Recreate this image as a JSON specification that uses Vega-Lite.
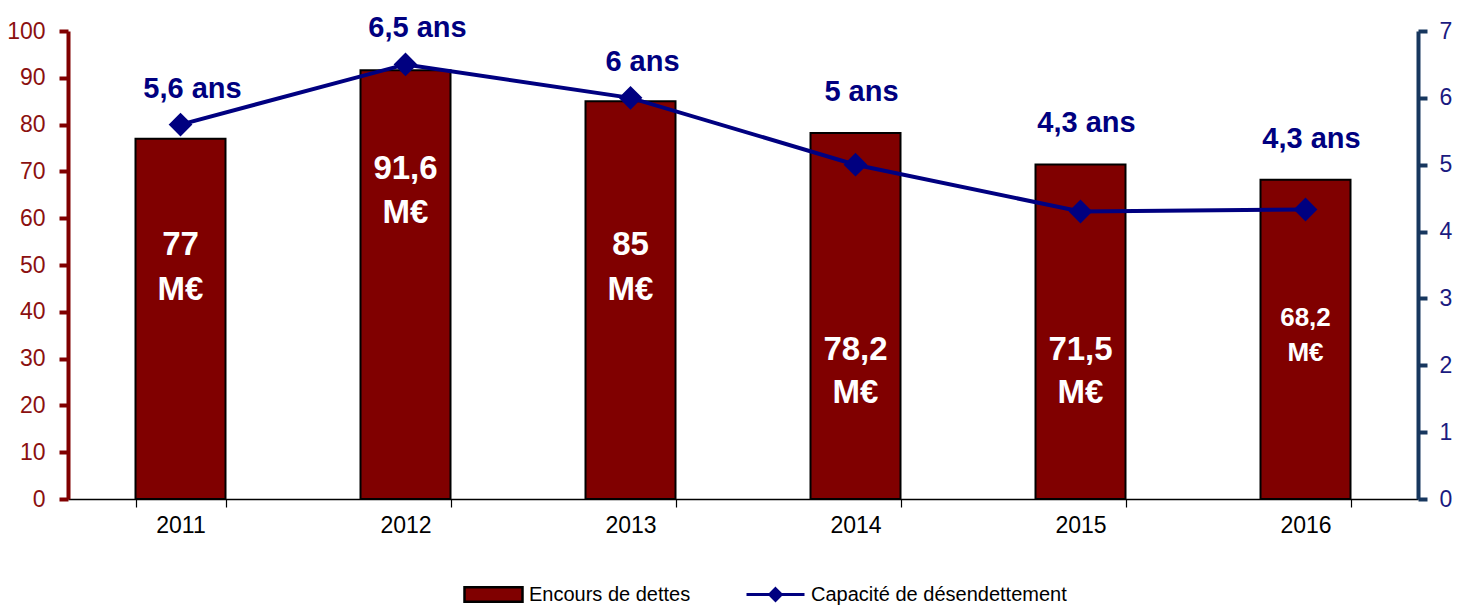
{
  "$schema": "https://vega.github.io/schema/vega-lite/v6.json",
  "width": 1350,
  "height": 468,
  "autosize": "none",
  "padding": {"left": 68, "top": 31, "right": 40, "bottom": 107},
  "background": "white",
  "config": {
    "view": {"stroke": null},
    "font": "Liberation Sans",
    "text": {"font": "Liberation Sans"}
  },
  "data": {
    "values": [
      {"annee": "2011", "dette": 77, "capacite": 5.6, "etiq": "77\nM€", "ans": "5,6 ans"},
      {"annee": "2012", "dette": 91.6, "capacite": 6.5, "etiq": "91,6\nM€", "ans": "6,5 ans"},
      {"annee": "2013", "dette": 85, "capacite": 6.0, "etiq": "85\nM€", "ans": "6 ans"},
      {"annee": "2014", "dette": 78.2, "capacite": 5.0, "etiq": "78,2\nM€", "ans": "5 ans"},
      {"annee": "2015", "dette": 71.5, "capacite": 4.3, "etiq": "71,5\nM€", "ans": "4,3 ans"},
      {"annee": "2016", "dette": 68.2, "capacite": 4.33, "etiq": "68,2\nM€", "ans": "4,3 ans"}
    ]
  },
  "encoding": {
    "x": {
      "field": "annee", "type": "ordinal", "sort": null,
      "scale": {"paddingInner": 0.6, "paddingOuter": 0.3},
      "axis": {
        "title": null, "labelAngle": 0, "labelFont": "Liberation Sans", "labelFontSize": 23,
        "labelColor": "#000000", "labelPadding": 7, "domainColor": "#000000", "domainWidth": 1.5,
        "tickColor": "#000000", "tickWidth": 1.2, "tickSize": 8, "tickBand": "extent"
      }
    }
  },
  "layer": [
    {
      "encoding": {
        "y": {
          "field": "dette", "type": "quantitative",
          "scale": {"domain": [0, 100], "nice": false},
          "axis": {
            "title": null, "orient": "left", "values": [0,10,20,30,40,50,60,70,80,90,100],
            "grid": false, "domainColor": "#800000", "domainWidth": 4, "tickColor": "#800000",
            "tickWidth": 4, "tickSize": 9, "labelColor": "#8B1010", "labelFont": "Liberation Sans",
            "labelFontSize": 23, "labelPadding": 14
          }
        }
      },
      "layer": [
        {
          "mark": {"type": "bar", "stroke": "#000000", "strokeWidth": 2},
          "encoding": {
            "fill": {
              "datum": "Encours de dettes",
              "scale": {"domain": ["Encours de dettes"], "range": ["#800000"]},
              "legend": {
                "orient": "none", "legendX": 395, "legendY": 533, "title": null,
                "labelFont": "Liberation Sans", "labelFontSize": 20, "labelColor": "#000000",
                "symbolType": "M-1,-0.25L1,-0.25L1,0.25L-1,0.25Z", "symbolSize": 3364,
                "symbolStrokeColor": "#000000", "symbolStrokeWidth": 2.5,
                "labelLimit": 400, "labelOffset": 5
              }
            }
          }
        },
        {
          "transform": [{"filter": "datum.annee >= '2014'"}],
          "mark": {"type": "text", "fontSize": 29, "fontWeight": "bold", "color": "#000080", "dy": -41, "dx": 6, "baseline": "middle"},
          "encoding": {"text": {"field": "ans"}}
        },
        {
          "transform": [{"filter": "datum.annee == '2011' || datum.annee == '2013'"}],
          "mark": {"type": "text", "fontSize": 33, "fontWeight": "bold", "color": "#ffffff", "lineBreak": "\n", "lineHeight": 45, "baseline": "middle"},
          "encoding": {"text": {"field": "etiq"}, "y": {"datum": 54.3, "type": "quantitative"}}
        },
        {
          "transform": [{"filter": "datum.annee == '2012'"}],
          "mark": {"type": "text", "fontSize": 33, "fontWeight": "bold", "color": "#ffffff", "lineBreak": "\n", "lineHeight": 44, "baseline": "middle"},
          "encoding": {"text": {"field": "etiq"}, "y": {"datum": 70.5, "type": "quantitative"}}
        },
        {
          "transform": [{"filter": "datum.annee == '2014' || datum.annee == '2015'"}],
          "mark": {"type": "text", "fontSize": 33, "fontWeight": "bold", "color": "#ffffff", "lineBreak": "\n", "lineHeight": 43, "baseline": "middle"},
          "encoding": {"text": {"field": "etiq"}, "y": {"datum": 31.8, "type": "quantitative"}}
        },
        {
          "transform": [{"filter": "datum.annee == '2016'"}],
          "mark": {"type": "text", "fontSize": 26, "fontWeight": "bold", "color": "#ffffff", "lineBreak": "\n", "lineHeight": 35, "baseline": "middle"},
          "encoding": {"text": {"field": "etiq"}, "y": {"datum": 38.7, "type": "quantitative"}}
        }
      ]
    },
    {
      "encoding": {
        "y": {
          "field": "capacite", "type": "quantitative",
          "scale": {"domain": [0, 7], "nice": false},
          "axis": {
            "title": null, "orient": "right", "values": [0,1,2,3,4,5,6,7],
            "grid": false, "domainColor": "#17375E", "domainWidth": 4, "tickColor": "#17375E",
            "tickWidth": 4, "tickSize": 9, "labelColor": "#1a1a80", "labelFont": "Liberation Sans",
            "labelFontSize": 23, "labelPadding": 12
          }
        }
      },
      "layer": [
        {
          "mark": {"type": "line", "strokeWidth": 4, "point": {"shape": "diamond", "size": 440, "filled": true, "fill": "#000080", "opacity": 1}},
          "encoding": {
            "stroke": {
              "datum": "Capacité de désendettement",
              "scale": {"domain": ["Capacité de désendettement"], "range": ["#000080"]},
              "legend": {
                "orient": "none", "legendX": 677, "legendY": 533, "title": null,
                "labelFont": "Liberation Sans", "labelFontSize": 20, "labelColor": "#000000",
                "symbolType": "M-1,0L1,0M0,-0.2L0.2,0L0,0.2L-0.2,0Z", "symbolSize": 3364,
                "symbolStrokeWidth": 3, "symbolFillColor": "#000080",
                "labelLimit": 400, "labelOffset": 5,
                "encode": {"symbols": {"update": {"fill": {"value": "#000080"}}}}
              }
            }
          }
        },
        {
          "transform": [{"filter": "datum.annee <= '2013'"}],
          "mark": {"type": "text", "fontSize": 29, "fontWeight": "bold", "color": "#000080", "dy": -36, "dx": 12, "baseline": "middle"},
          "encoding": {"text": {"field": "ans"}}
        }
      ]
    }
  ],
  "resolve": {"scale": {"y": "independent"}}
}
